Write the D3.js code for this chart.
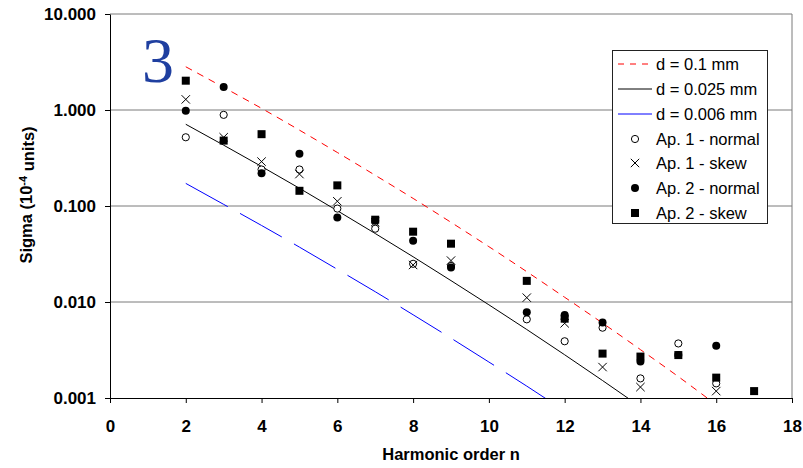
<!DOCTYPE html>
<html>
<head>
<meta charset="utf-8">
<script src="https://cdn.jsdelivr.net/npm/d3@7"></script>
<style>
body { margin: 0; background: #fff; }
text { font-family: Arial, "Liberation Sans", sans-serif; }
</style>
</head>
<body>
<div id="chart"></div>
<script>
// harmonic numbers where measurements exist
var harmonics = [2, 3, 4, 5, 6, 7, 8, 9, 11, 12, 13, 14, 15, 16, 17];
var ap1Normal = [0.52, 0.89, 0.24, 0.24, 0.094, 0.058, 0.025, 0.0237, 0.0066, 0.0039, 0.0054, 0.0016, 0.0037, 0.00142, null];
var ap1Skew   = [1.29, 0.52, 0.29, 0.215, 0.112, 0.068, 0.0243, 0.027, 0.0111, 0.0060, 0.0021, 0.0013, null, 0.00118, null];
var ap2Normal = [0.98, 1.74, 0.22, 0.35, 0.076, 0.070, 0.0434, 0.0229, 0.0078, 0.0073, 0.0061, 0.0024, 0.0028, 0.0035, null];
var ap2Skew   = [2.02, 0.48, 0.56, 0.144, 0.164, 0.072, 0.054, 0.0405, 0.0166, 0.0067, 0.0029, 0.0027, 0.0028, 0.00163, 0.00118];

// model curves (at integer n)
var curveN01 = [2, 3, 4, 5, 6, 7, 8, 9, 10, 11, 12, 13, 14, 15, 16];
var d01 = [2.82, 1.72, 1.04, 0.617, 0.361, 0.209, 0.120, 0.0676, 0.0377, 0.0207, 0.0112, 0.00603, 0.00319, 0.00167, 0.00085];
var curveN0025 = [2, 3, 4, 5, 6, 7, 8, 9, 10, 11, 12, 13, 14];
var d0025 = [0.71, 0.430, 0.258, 0.153, 0.0893, 0.0517, 0.0296, 0.0167, 0.00935, 0.00517, 0.00282, 0.00152, 0.00081];
var curveN0006 = [2, 3, 4, 5, 6, 7, 8, 9, 10, 11, 12];
var d0006 = [0.172, 0.104, 0.0627, 0.0373, 0.0219, 0.0128, 0.00736, 0.00420, 0.00237, 0.00133, 0.00073];

var xTicks = [0, 2, 4, 6, 8, 10, 12, 14, 16, 18];
var yTicks = [0.001, 0.01, 0.1, 1, 10];
var legendNames = ["d = 0.1 mm", "d = 0.025 mm", "d = 0.006 mm", "Ap. 1 - normal", "Ap. 1 - skew", "Ap. 2 - normal", "Ap. 2 - skew"];

var W = 803, H = 468;
var pLeft = 110, pRight = 792, pTop = 14, pBottom = 398;

var svg = d3.select("#chart").append("svg")
  .attr("width", W).attr("height", H)
  .style("display", "block");

svg.append("rect").attr("width", W).attr("height", H).attr("fill", "#fff");

var x = d3.scaleLinear().domain([0, 18]).range([pLeft, pRight]);
var y = d3.scaleLog().domain([0.001, 10]).range([pBottom, pTop]);

// gridlines
svg.append("g").selectAll("line")
  .data(yTicks.slice(1))
  .enter().append("line")
  .attr("x1", pLeft).attr("x2", pRight)
  .attr("y1", function(d){ return y(d); })
  .attr("y2", function(d){ return y(d); })
  .attr("stroke", "#7a7a7a").attr("stroke-width", 1);

// right border
svg.append("line")
  .attr("x1", pRight).attr("x2", pRight)
  .attr("y1", pTop).attr("y2", pBottom)
  .attr("stroke", "#7a7a7a");

svg.append("clipPath").attr("id", "plotclip")
  .append("rect").attr("x", pLeft).attr("y", pTop)
  .attr("width", pRight - pLeft).attr("height", pBottom - pTop);

// axes
var xAxis = svg.append("g")
  .attr("transform", "translate(0," + pBottom + ")")
  .call(d3.axisBottom(x).tickValues(xTicks).tickSize(5).tickSizeOuter(0).tickPadding(17).tickFormat(d3.format("d")));
var yAxis = svg.append("g")
  .attr("transform", "translate(" + pLeft + ",0)")
  .call(d3.axisLeft(y).tickValues(yTicks).tickSize(5).tickSizeOuter(0).tickPadding(9).tickFormat(d3.format(".3f")));

[xAxis, yAxis].forEach(function(a){
  a.selectAll("path, line").attr("stroke", "#000");
  a.selectAll("text")
    .attr("fill", "#000")
    .style("font-family", "Arial, 'Liberation Sans', sans-serif")
    .style("font-size", "17px")
    .style("font-weight", "bold");
});

// model lines
var lineGen = d3.line()
  .x(function(d){ return x(d[0]); })
  .y(function(d){ return y(d[1]); })
  .curve(d3.curveMonotoneX);

var lines = [
  {n: curveN01, v: d01, color: "#ff0000", dash: "7,6"},
  {n: curveN0025, v: d0025, color: "#000000", dash: null},
  {n: curveN0006, v: d0006, color: "#0000ff", dash: "48,14"}
];

var lineG = svg.append("g").attr("clip-path", "url(#plotclip)");
lines.forEach(function(l){
  var pts = l.n.map(function(n, i){ return [n, l.v[i]]; });
  lineG.append("path")
    .attr("d", lineGen(pts))
    .attr("fill", "none")
    .attr("stroke", l.color)
    .attr("stroke-width", 1)
    .attr("stroke-dasharray", l.dash);
});

// marker drawing
function drawMarker(g, kind, cx, cy) {
  if (kind == "openCircle") {
    g.append("circle").attr("cx", cx).attr("cy", cy).attr("r", 3.6)
      .attr("fill", "#fff").attr("stroke", "#000").attr("stroke-width", 1);
  } else if (kind == "cross") {
    g.append("path")
      .attr("d", "M" + (cx-4.2) + "," + (cy-4.2) + "L" + (cx+4.2) + "," + (cy+4.2) +
                 "M" + (cx-4.2) + "," + (cy+4.2) + "L" + (cx+4.2) + "," + (cy-4.2))
      .attr("stroke", "#000").attr("stroke-width", 1).attr("fill", "none");
  } else if (kind == "filledCircle") {
    g.append("circle").attr("cx", cx).attr("cy", cy).attr("r", 4)
      .attr("fill", "#000");
  } else if (kind == "square") {
    g.append("rect").attr("x", cx - 4).attr("y", cy - 4)
      .attr("width", 8).attr("height", 8).attr("fill", "#000");
  }
}

var series = [
  {v: ap1Normal, kind: "openCircle"},
  {v: ap1Skew, kind: "cross"},
  {v: ap2Normal, kind: "filledCircle"},
  {v: ap2Skew, kind: "square"}
];

var markG = svg.append("g");
series.forEach(function(s){
  harmonics.forEach(function(n, i){
    if (s.v[i] == null) return;
    drawMarker(markG, s.kind, x(n), y(s.v[i]));
  });
});

// big "3"
svg.append("text")
  .attr("x", 142).attr("y", 82)
  .style("font-family", "'Liberation Serif', 'Times New Roman', serif")
  .style("font-size", "64px")
  .attr("fill", "#1f3fa0")
  .text("3");

// legend
var lg = svg.append("g");
lg.append("rect")
  .attr("x", 612.5).attr("y", 50.5).attr("width", 155).attr("height", 173)
  .attr("fill", "#fff").attr("stroke", "#222").attr("stroke-width", 1);

var rowY = [64, 89, 114, 139, 163, 188, 213];
var legendStyle = [
  {line: lines[0]}, {line: lines[1]}, {line: lines[2]},
  {kind: "openCircle"}, {kind: "cross"}, {kind: "filledCircle"}, {kind: "square"}
];
legendNames.forEach(function(name, i){
  var st = legendStyle[i];
  if (st.line) {
    lg.append("line")
      .attr("x1", 618).attr("x2", 652)
      .attr("y1", rowY[i]).attr("y2", rowY[i])
      .attr("stroke", st.line.color).attr("stroke-width", 1)
      .attr("stroke-dasharray", st.line.dash ? (st.line.color == "#ff0000" ? "6,6" : null) : null);
  } else {
    drawMarker(lg, st.kind, 635, rowY[i]);
  }
  lg.append("text")
    .attr("x", 656).attr("y", rowY[i]).attr("dy", "0.36em")
    .style("font-size", "16.5px")
    .attr("fill", "#000")
    .text(name);
});

// axis titles
svg.append("text")
  .attr("x", (pLeft + pRight) / 2).attr("y", 460)
  .attr("text-anchor", "middle")
  .style("font-size", "16.5px").style("font-weight", "bold")
  .text("Harmonic order n");

var yt = svg.append("text")
  .attr("transform", "translate(32,195) rotate(-90)")
  .attr("text-anchor", "middle")
  .style("font-size", "16.5px").style("font-weight", "bold");
yt.append("tspan").text("Sigma (10");
yt.append("tspan").attr("dy", "-0.45em").style("font-size", "11px").text("-4");
yt.append("tspan").attr("dy", "0.45em").text(" units)");
</script>
</body>
</html>
